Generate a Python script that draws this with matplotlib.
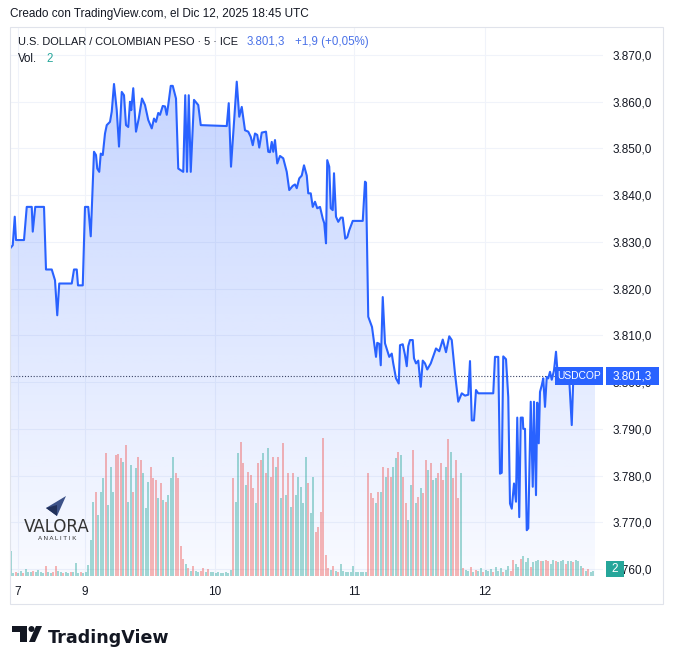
import numpy as np
import matplotlib
matplotlib.use('Agg')
import matplotlib.pyplot as plt
import matplotlib.transforms as mtransforms
from matplotlib.colors import LinearSegmentedColormap
from matplotlib.patches import Rectangle, Polygon, Circle

W, H = 673, 664

# price (5 min closes), x = bar index
price_t = [0, 0.9, 1.7, 2.2, 5.4, 6.5, 8.5, 8.9, 9.9, 13.4, 14.2, 16.5, 17.8, 18.7, 19.5,
           24.5, 25.4, 26.5, 27.0, 28.9, 29.8, 31.1, 32.1, 33.4, 34.2, 34.7, 35.5, 36.1, 36.9,
           37.8, 38.5, 39.8, 40.5, 41.4, 42.5, 43.4, 44.5, 45.4, 46.2, 47.1, 47.8, 48.3, 49.1,
           50.2, 51.3, 52.6, 53.8, 55.1, 56.5, 57.4, 58.2, 59.1, 59.8, 60.9, 61.8, 62.5, 63.1,
           64.1, 64.9, 66.2, 67.1, 69.1, 69.9, 70.6, 71.3, 72.1, 73.4, 75.1, 76.1,
           86.5, 87.3, 88.2, 90.5, 91.5, 92.5, 93.8, 95.1, 96.1, 96.9, 97.8, 98.7, 99.5, 100.5,
           102.2, 103.1, 103.8, 104.5, 105.1, 105.8, 106.7, 107.8, 109.1, 110.5, 111.5, 112.9,
           113.8, 114.5, 115.5, 116.5, 117.4, 118.5, 119.1, 120.1, 120.9, 121.8, 122.7, 123.8,
           124.9, 125.5, 126.2, 126.7, 127.5, 128.1, 128.9, 129.4, 130.2, 131.1, 132.1, 132.9,
           133.9, 134.7, 135.5, 136.9, 140.9, 141.8, 142.2,
           143.1, 144.6, 146.2, 146.7, 147.5, 148.1, 148.9, 149.8, 151.5, 152.5, 153.1, 154.2,
           155.3, 155.8, 156.9, 157.8, 158.5, 159.1, 159.8, 160.9, 161.4, 162.2, 163.1, 164.1,
           164.9, 165.8, 166.7, 168.1, 170.2, 171.5, 172.9, 174.2, 175.5, 176.5, 177.8, 179.1,
           180.5, 181.8, 183.1, 183.8, 184.5, 185.4, 186.2, 187.1,
           193.1, 193.8, 195.1, 195.8, 196.5, 197.1, 198.2, 199.1, 199.8, 200.5, 201.4, 202.2,
           202.7, 203.5, 204.1, 204.9, 205.1, 205.8, 206.5, 207.1, 208.1, 208.9, 209.4, 210.2,
           210.7, 211.3, 211.8, 212.5, 213.1, 213.8, 214.5, 215.1, 215.8, 216.5, 217.4, 218.2,
           218.7, 219.8, 220.9, 221.8, 222.7, 223.5, 224.5, 225.1, 227.8, 231.0, 233.8]
price_v = [3828.7, 3829.3, 3835.4, 3830.4, 3830.4, 3837.5, 3837.5, 3832.2, 3837.5, 3837.5, 3824.1, 3824.1, 3821.8, 3814.3, 3821.1,
           3821.1, 3824.1, 3824.1, 3820.7, 3820.7, 3837.5, 3837.5, 3831.2, 3849.3, 3848.6, 3845.7, 3845.0, 3848.9, 3848.6,
           3853.2, 3855.0, 3855.7, 3857.9, 3863.8, 3858.2, 3850.4, 3862.1, 3861.4, 3855.0, 3854.6, 3860.0, 3858.2, 3862.9,
           3853.6, 3856.4, 3860.7, 3859.3, 3856.1, 3854.3, 3856.4, 3855.7, 3857.6, 3857.2, 3859.1, 3859.0, 3857.2, 3859.3,
           3863.4, 3863.4, 3860.7, 3845.7, 3845.0, 3861.4, 3845.0, 3861.4, 3845.0, 3860.4, 3859.3, 3855.0,
           3854.8, 3859.7, 3846.1, 3864.3, 3856.8, 3858.9, 3853.9, 3853.6, 3852.5, 3850.7, 3853.2, 3852.9, 3850.2, 3853.4,
           3853.6, 3849.3, 3849.2, 3851.4, 3849.3, 3851.8, 3846.8, 3848.4, 3847.9, 3845.0, 3841.1, 3842.0,
           3842.3, 3841.5, 3843.6, 3844.2, 3846.4, 3844.2, 3840.4, 3840.4, 3837.5, 3838.6, 3837.2, 3837.5,
           3835.0, 3834.0, 3829.7, 3847.5, 3846.1, 3837.2, 3836.8, 3844.7, 3835.4, 3834.3, 3835.2, 3835.2,
           3830.7, 3831.0, 3832.5, 3834.5, 3834.5, 3842.9, 3842.7,
           3814.0, 3811.8, 3805.4, 3808.4, 3808.2, 3803.6, 3818.2, 3808.3, 3805.4, 3806.1, 3804.0, 3800.8,
           3799.7, 3807.9, 3808.1, 3805.8, 3803.4, 3807.7, 3809.0, 3809.0, 3805.1, 3804.0, 3804.6, 3799.0,
           3804.6, 3804.0, 3802.7, 3804.0, 3807.2, 3806.6, 3809.1, 3806.4, 3809.8, 3809.0, 3801.8, 3795.8,
           3797.6, 3797.1, 3797.3, 3804.5, 3791.8, 3791.8, 3798.3, 3797.6,
           3797.6, 3805.4, 3805.4, 3780.4, 3780.6, 3805.5, 3804.9, 3796.8, 3774.0, 3772.9, 3778.3, 3774.4,
           3792.4, 3771.1, 3792.4, 3792.4, 3790.0, 3790.0, 3768.3, 3768.7, 3795.8, 3777.6, 3795.8, 3775.8,
           3795.6, 3786.9, 3797.9, 3799.3, 3800.8, 3794.7, 3801.1, 3800.8, 3802.2, 3800.5, 3802.5, 3806.5,
           3802.9, 3801.8, 3800.4, 3800.1, 3799.6, 3800.5, 3790.8, 3800.5, 3800.6, 3800.9, 3801.3]
assert len(price_t) == len(price_v)

# volume per bar (relative units) and bar direction (t = up, r = down)
vol = ([25, 3, 4, 3, 5, 3, 7, 4, 4, 5, 4, 6, 4, 3, 10, 4, 3, 4, 10, 5, 4, 3, 4, 3, 4, 4, 13, 3, 4, 3, 4, 11] +
       [36, 74, 84, 61, 84, 98, 123, 71, 109, 84, 121, 122, 118, 114, 131, 74, 111, 84, 108, 119, 116, 103,
        68, 94, 109, 98, 96, 78, 93, 76, 74, 81, 98, 119, 103, 98] +
       [30, 17, 12, 8, 5, 10, 5, 4, 5, 8, 4, 7, 4, 4, 3, 4, 3, 3, 4, 3, 6] +
       [98, 74, 123, 134, 113, 91, 104, 101, 88, 73, 113, 116, 123, 103, 128, 99, 119, 109, 119, 78, 133,
        81, 103, 69, 103, 81, 99, 89, 73, 119, 93, 63, 99, 44, 49, 64, 138] +
       [21, 8, 6, 10, 5, 4, 12, 5, 4, 4, 4, 10, 4, 4, 4, 4, 4] +
       [103, 83, 78, 73, 84, 84, 109, 99, 108, 99, 109, 118, 124, 121, 99, 73, 56, 91, 126, 73, 79, 88,
        83, 116, 106, 113, 96, 98, 103, 113, 96, 109, 137, 124, 98, 116, 78, 103] +
       [8, 6, 5, 9, 4, 6, 5, 8, 4, 6, 5, 7, 4, 9, 5, 8, 4, 6, 10, 5, 16, 12, 9, 17, 20, 14, 18, 9, 14,
        15, 16, 15, 15, 16, 15, 12, 16, 15, 14, 15, 16, 12, 15, 15, 14, 16, 15, 10, 8, 5, 7, 4, 5])
vol_dir = ("ttrttrtttrttttrttrrttrttrtttrttt" +
           "ttrtttrtttrrrtrttrtrrtttrrrtrtrtttrr" +
           "rrtrtrttrrtrttttttttt" +
           "rttrrtrrrtrrtrtrrtrtrtrtrtttttrttrrrr" +
           "rrtrtrtttttttttt" + "t" +
           "rrrtrtrtrrttr" + "trrttrtrtrrtrttrrrtrtrrrt" +
           "rttrtrttrt" + "ttrtttrttr" + "rttrtttrt" + "ttrtrrttrtttrttrtttrtrtt")
assert len(vol) == len(vol_dir)
last_vol = 2

day_ticks = [3.0, 29.8, 81.8, 137.4, 189.8]
day_labels = ['7', '9', '10', '11', '12']
price_ticks = [3760, 3770, 3780, 3790, 3800, 3810, 3820, 3830, 3840, 3850, 3860, 3870]
last_price = 3801.3
change, change_pct = 1.9, 0.05

blue = '#2962ff'
teal = '#26a69a'
txt = '#131722'


def fmt(v, nd=1):
    return f"{v:,.{nd}f}".replace(',', '#').replace('.', ',').replace('#', '.')


plt.rcParams['font.family'] = ['Liberation Sans', 'DejaVu Sans']

fig = plt.figure(figsize=(W / 100, H / 100), dpi=100)
fig.patch.set_facecolor('white')


def fx(x):
    return x / W


def fy(y):
    return 1 - y / H


ax = fig.add_axes([fx(10), fy(576), (603 - 10) / W, (576 - 27) / H])
ylo, yhi = 3758.5, 3876.0
xlo, xhi = -0.2, 237.0

# gradient area under the line
cmap = LinearSegmentedColormap.from_list('fill', [(41 / 255, 98 / 255, 1, 0.03), (41 / 255, 98 / 255, 1, 0.27)])
grad = np.linspace(1, 0, 256).reshape(-1, 1)
img = ax.imshow(grad, extent=[price_t[0], price_t[-1], ylo, max(price_v)], aspect='auto', cmap=cmap,
                zorder=1, interpolation='bilinear')
poly = ax.fill_between(price_t, price_v, ylo, facecolor='none', edgecolor='none')
img.set_clip_path(poly.get_paths()[0], transform=ax.transData)

# volume bars (bottom overlay)
vol_top = 549.0
bar_x = np.arange(len(vol))
bar_c = [(0.149, 0.651, 0.604, 0.5) if d == 't' else (0.937, 0.325, 0.314, 0.5) for d in vol_dir]
ax.vlines(bar_x, 0, np.array(vol) / vol_top, colors=bar_c, lw=1.2,
          transform=ax.get_xaxis_transform(), zorder=2)

ax.plot(price_t, price_v, color=blue, lw=1.5, zorder=4, solid_joinstyle='round')
ax.axhline(last_price, xmin=0, xmax=(555 - 10) / 593, color='#3a4466', lw=0.8,
           linestyle=(0, (1, 1.6)), zorder=3)

ax.set_xlim(xlo, xhi)
ax.set_ylim(ylo, yhi)
ax.set_xticks(day_ticks)
ax.set_xticklabels(day_labels)
ax.set_yticks(price_ticks)
ax.yaxis.set_major_formatter(lambda v, p: fmt(v))
ax.yaxis.tick_right()
ax.tick_params(axis='both', length=0, colors=txt, labelsize=8.5)
ax.tick_params(axis='x', pad=7)
ax.tick_params(axis='y', pad=7)
ax.grid(True, color='#f0f3fa', lw=0.8, zorder=0)
ax.set_axisbelow(True)
for s in ax.spines.values():
    s.set_visible(False)

# panel frame
fig.add_artist(Rectangle((fx(10), fy(604)), (663 - 10) / W, (604 - 27) / H, transform=fig.transFigure,
                         fill=False, edgecolor='#e0e3eb', lw=0.8))

# last price labels
bl = mtransforms.blended_transform_factory(fig.transFigure, ax.transData)
bh = 18 / 4.673
ax.add_patch(Rectangle((fx(555), last_price - bh / 2), (603 - 555) / W, bh, transform=bl,
                       facecolor=blue, edgecolor='none', zorder=6, clip_on=False))
ax.add_patch(Rectangle((fx(606), last_price - bh / 2), (659 - 606) / W, bh, transform=bl,
                       facecolor=blue, edgecolor='none', zorder=6, clip_on=False))
ax.text(fx(579), last_price, 'USDCOP', transform=bl, color='white', fontsize=7.4, ha='center',
        va='center', zorder=7, clip_on=False)
ax.text(fx(632.5), last_price, fmt(last_price), transform=bl, color='white', fontsize=8.5, ha='center',
        va='center', zorder=7, clip_on=False)
fig.add_artist(Rectangle((fx(606), fy(577)), 18 / W, 16 / H, transform=fig.transFigure,
                         facecolor=teal, edgecolor='none'))
fig.text(fx(615), fy(569), str(last_vol), color='white', fontsize=8.5, ha='center', va='center')

# header texts
fig.text(fx(10), fy(14), 'Creado con TradingView.com, el Dic 12, 2025 18:45 UTC', fontsize=8.5,
         color=txt, va='center')
fig.text(fx(18), fy(42), 'U.S. DOLLAR / COLOMBIAN PESO · 5 · ICE', fontsize=7.9, color=txt, va='center')
fig.text(fx(247), fy(42), fmt(last_price), fontsize=8.3, color='#4a72e8', va='center')
fig.text(fx(295), fy(42), f"+{fmt(change)} (+{fmt(change_pct, 2)}%)", fontsize=8.3, color='#4a72e8',
         va='center')
fig.text(fx(18), fy(59), 'Vol.', fontsize=8.3, color=txt, va='center')
fig.text(fx(46), fy(59), str(last_vol), fontsize=8.3, color=teal, va='center')

# watermark
fig.add_artist(Polygon([(fx(46), fy(508)), (fx(66), fy(496)), (fx(57), fy(516))],
                       transform=fig.transFigure, facecolor='#3d5288', edgecolor='none'))
fig.add_artist(Polygon([(fx(46), fy(508)), (fx(57), fy(505)), (fx(57), fy(516))],
                       transform=fig.transFigure, facecolor='#22315a', edgecolor='none'))
fig.text(fx(57), fy(527), 'VALORA', fontsize=12, color='#333333', ha='center', va='center',
         family='DejaVu Sans')
fig.text(fx(57), fy(539), 'A N A L I T I K', fontsize=4.5, color='#333333', ha='center', va='center')

# TradingView logo
fig.add_artist(Polygon([(fx(12), fy(626)), (fx(27), fy(626)), (fx(27), fy(642)), (fx(20), fy(642)),
                        (fx(20), fy(632)), (fx(12), fy(632))], transform=fig.transFigure,
                       facecolor=txt, edgecolor='none'))
fig.add_artist(Circle((fx(31.5), fy(629)), 3 / W, transform=fig.transFigure, facecolor=txt))
fig.add_artist(Polygon([(fx(36), fy(626)), (fx(42), fy(626)), (fx(35), fy(642)), (fx(29), fy(642))],
                       transform=fig.transFigure, facecolor=txt, edgecolor='none'))
fig.text(fx(48), fy(643), 'TradingView', fontsize=12.6, weight='bold', color=txt, va='baseline',
         family='DejaVu Sans')

fig.savefig('out.png', dpi=100)
